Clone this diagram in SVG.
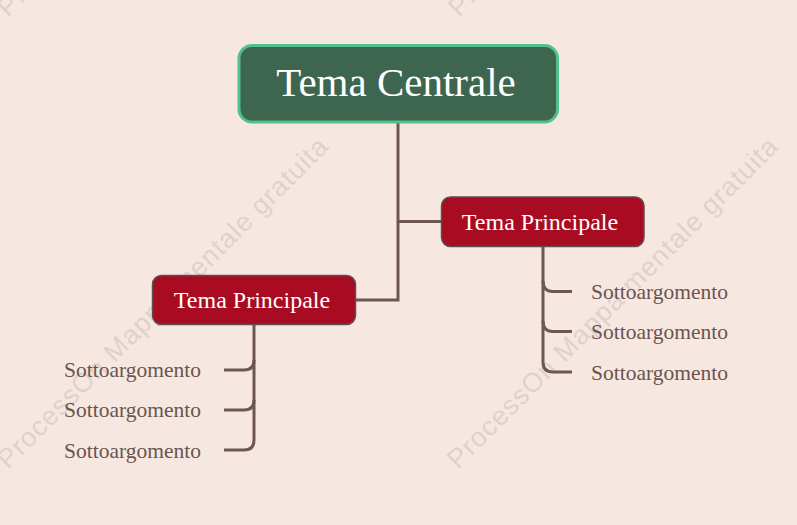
<svg xmlns="http://www.w3.org/2000/svg" width="797" height="525" viewBox="0 0 797 525">
<style>
.wm{font-family:"Liberation Sans",Arial,sans-serif;font-size:27px;fill:#ddd3cd}
.main rect{fill:#a90c22;stroke:#5d4e4c;stroke-width:1.5}
.main text{font-family:"Liberation Serif","Times New Roman",serif;font-size:24px;fill:#ffffff;text-anchor:middle}
.sub text{font-family:"Liberation Serif","Times New Roman",serif;font-size:21.5px;fill:#6b5450}
.conn path{fill:none;stroke:#6e5650;stroke-width:3;stroke-linecap:butt}
</style>
<rect width="797" height="525" fill="#f6e8e0"/>
<g id="watermarks">
<text class="wm" transform="translate(8,470) rotate(-45)" textLength="455">ProcessOn Mappa mentale gratuita</text>
<text class="wm" transform="translate(458,470) rotate(-45)" textLength="455">ProcessOn Mappa mentale gratuita</text>
<text class="wm" transform="translate(8,18) rotate(-45)" textLength="455">ProcessOn Mappa mentale gratuita</text>
<text class="wm" transform="translate(459,18) rotate(-45)" textLength="455">ProcessOn Mappa mentale gratuita</text>
</g>
<g id="connectors" class="conn">
<path d="M398,123 V300 H355"/>
<path d="M398,221.5 H441"/>
<path d="M254,324 V440 Q254,450 244,450 H224"/>
<path d="M224,370 H244 Q254,370 254,360"/>
<path d="M224,410 H244 Q254,410 254,400"/>
<path d="M543,246 V362 Q543,372 553,372 H572"/>
<path d="M543,281 Q543,291.5 553,291.5 H572"/>
<path d="M543,321 Q543,331.5 553,331.5 H572"/>
</g>
<g id="central">
<rect x="239" y="45.5" width="318.5" height="76.5" rx="13" fill="#3d6550" stroke="#52c08c" stroke-width="3"/>
<text x="396" y="96" font-family="'Liberation Serif','Times New Roman',serif" font-size="41" fill="#ffffff" text-anchor="middle">Tema Centrale</text>
</g>
<g id="main-right" class="main">
<rect x="441.5" y="197" width="202.5" height="49.5" rx="9"/>
<text x="540" y="230">Tema Principale</text>
</g>
<g id="main-left" class="main">
<rect x="152.5" y="275.5" width="203" height="49" rx="9"/>
<text x="252" y="308">Tema Principale</text>
</g>
<g id="sub-left-1" class="sub"><text x="201" y="377" text-anchor="end">Sottoargomento</text></g>
<g id="sub-left-2" class="sub"><text x="201" y="417" text-anchor="end">Sottoargomento</text></g>
<g id="sub-left-3" class="sub"><text x="201" y="457.5" text-anchor="end">Sottoargomento</text></g>
<g id="sub-right-1" class="sub"><text x="591" y="298.5">Sottoargomento</text></g>
<g id="sub-right-2" class="sub"><text x="591" y="339">Sottoargomento</text></g>
<g id="sub-right-3" class="sub"><text x="591" y="379.5">Sottoargomento</text></g>
</svg>
